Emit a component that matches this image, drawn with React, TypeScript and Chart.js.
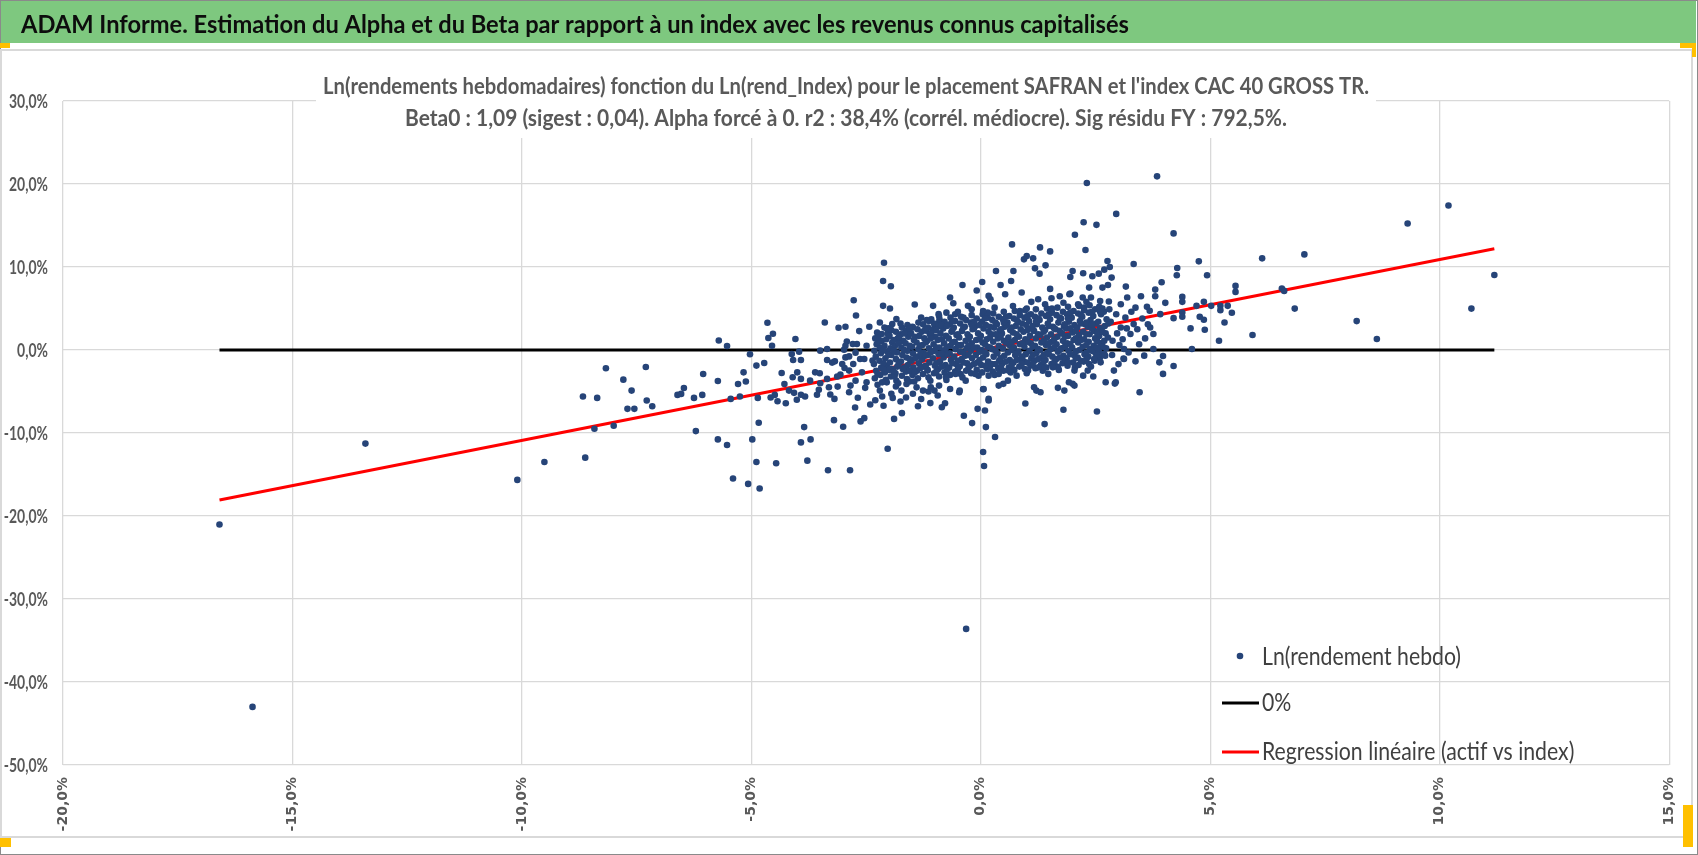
import { Chart, registerables } from 'chart.js';
import { type FC, useEffect, useRef } from 'react';

Chart.register(...registerables);

const TEXT_FONT = 'Lato, "Liberation Sans", sans-serif';
const WIDE = '"DejaVu Sans", Verdana, sans-serif';

const HEADER = 'ADAM Informe. Estimation du Alpha et du Beta par rapport à un index avec les revenus connus capitalisés';
const TITLE_LINES = [
  "Ln(rendements hebdomadaires) fonction du Ln(rend_Index) pour le placement SAFRAN et l'index CAC 40 GROSS TR.",
  'Beta0 : 1,09 (sigest : 0,04). Alpha forcé à 0. r2 : 38,4% (corrél. médiocre). Sig résidu FY : 792,5%.',
];
const LEGEND_LABELS = ['Ln(rendement hebdo)', '0%', 'Regression linéaire (actif vs index)'];

// axes (percent)
const X_RANGE = [-20, 15];
const Y_RANGE = [-50, 30];

// weekly log returns: [index %, asset %]
const tailPoints: [number, number][] = [
  [-16.59, -21.02], [-15.87, -43.0], [-13.41, -11.28], [-10.1, -15.65], [-9.51, -13.49], [-8.62, -12.97],
  [-8.67, -5.61], [-8.36, -5.77], [-8.17, -2.2], [-8.42, -9.49], [-8.0, -9.13], [-7.79, -3.57], [-7.61, -4.89],
  [-7.7, -7.09], [-7.55, -7.09], [-7.3, -2.04], [-7.28, -6.09], [-7.16, -6.77], [-6.61, -5.41], [-6.53, -5.29],
  [-6.47, -4.57], [-6.25, -5.77], [-6.21, -9.77], [-6.07, -5.41], [-6.05, -2.89], [-0.32, -33.6],
];

const lowerPoints: [number, number][] = [
  [-5.4, -15.49], [-5.07, -16.13], [-4.82, -16.69], [-4.89, -13.49], [-4.46, -13.65], [-3.78, -13.33],
  [-3.33, -14.49], [-2.85, -14.49], [0.05, -12.29], [0.07, -13.97], [-2.03, -11.9], [-3.2, -8.45], [-1.89, -8.3],
  [-5.73, -10.77], [-5.53, -11.45], [-4.98, -10.77], [-3.92, -11.13], [-3.71, -10.77], [-3.85, -9.29],
  [-4.84, -8.77], [-1.72, -7.61], [-3.0, -9.24], [-2.62, -8.6], [-2.54, -8.21], [0.31, -10.49], [0.11, -9.29],
  [0.09, -7.29], [-0.07, -7.09], [-0.19, -8.81], [-0.37, -7.92], [1.39, -8.93], [1.8, -7.2], [2.53, -7.41],
];

const leftCloudPoints: [number, number][] = [
  [-2.11, 10.52], [-2.13, 8.32], [-1.96, 7.68], [-2.77, 6.0], [-2.13, 5.32], [-1.98, 5.0], [-1.44, 5.48],
  [-1.04, 5.32], [-2.72, 4.16], [-3.4, 3.32], [-4.65, 3.28], [-4.53, 1.96], [-4.63, 1.44], [-4.55, 0.52],
  [-5.71, 1.15], [-5.53, 0.48], [-5.03, -0.52], [-4.89, -1.88], [-4.72, -1.56], [-5.17, -2.69], [-5.73, -3.73],
  [-5.29, -4.09], [-5.12, -3.8], [-5.45, -5.89], [-5.25, -5.61], [-4.86, -5.77], [-2.74, -6.93], [-2.41, -6.57],
  [-2.3, -6.05], [-2.12, -6.72], [-1.37, -6.77], [-1.92, -5.77], [-1.63, -5.73], [-4.58, -5.73], [-4.43, -6.17],
  [-4.25, -6.41], [-4.49, -5.41], [-4.28, -4.09], [-4.34, -2.77], [-4.1, -3.29], [-4.04, 1.32], [-4.12, -0.48],
  [-4.09, -1.2], [-3.96, -0.2], [-3.92, -1.2], [-4.0, -2.69], [-3.92, -3.48], [-4.18, -4.89], [-4.07, -5.16],
  [-3.92, -5.4], [-3.83, -5.61], [-4.01, -6.0], [-3.72, -3.69], [-3.61, -2.69], [-3.51, -2.81], [-3.5, -0.08],
  [-3.35, 0.12], [-3.35, -1.2], [-3.24, -1.52], [-3.18, -1.37], [-3.5, -4.01], [-3.35, -3.48], [-3.53, -4.8],
  [-3.57, -5.4], [-3.31, -4.49], [-3.28, -5.37], [-3.19, -5.89], [-3.12, -4.41], [-3.06, -2.97], [-2.97, -2.17],
  [-3.02, -1.69], [-2.95, -0.89], [-2.87, -0.77], [-2.98, 0.04], [-2.92, 1.03], [-2.95, 0.52], [-3.1, 2.68],
  [-2.95, 2.8], [-2.65, 2.28], [-2.43, 2.8], [-2.79, 0.72], [-2.7, 0.72], [-2.49, 0.52], [-2.73, -0.32],
  [-2.78, -1.69], [-2.63, -1.08], [-2.54, -1.08], [-2.36, -1.28], [-2.87, -2.48], [-2.73, -3.69], [-2.84, -4.29],
  [-2.87, -5.09], [-2.68, -5.76], [-2.52, -4.56], [-2.49, -3.89], [-2.59, -2.69], [-3.13, -3.2], [-2.2, 3.32],
  [-2.16, 1.92], [-2.03, 2.52], [-1.93, 3.12], [-1.84, 3.72], [-1.62, 2.32], [-1.48, 2.71], [-1.19, 2.32],
  [-1.01, 2.71], [-0.92, 4.32], [-0.91, 3.32], [-2.25, -4.2], [-2.05, -3.9], [-1.85, -4.4], [-1.62, -4.1],
  [-1.4, -4.5], [-1.55, -3.8], [-2.15, -5.6], [-1.75, -6.2], [-1.3, -5.9], [-1.1, -6.4], [-0.85, -6.9],
  [-1.26, -4.89], [-1.48, -5.28], [-1.73, -4.89], [-1.95, -5.28], [-2.2, -4.89], [-1.01, -4.89],
];

const upperRightPoints: [number, number][] = [
  [2.31, 20.12], [3.84, 20.92], [2.95, 16.4], [2.24, 15.4], [2.52, 15.08], [2.05, 13.88], [2.28, 12.04],
  [0.68, 12.72], [1.29, 12.36], [1.51, 11.88], [0.94, 10.92], [1.0, 11.32], [1.14, 11.04], [1.18, 9.84],
  [1.28, 9.2], [1.41, 10.2], [0.33, 9.52], [0.71, 9.52], [0.66, 8.32], [0.43, 7.84], [0.03, 8.2], [-0.4, 7.84],
  [-0.09, 7.16], [1.51, 7.36], [1.95, 8.8], [2.0, 9.52], [2.23, 9.24], [2.43, 8.88], [2.57, 9.2], [2.69, 9.68],
  [2.76, 10.72], [2.81, 10.0], [2.85, 8.72], [2.65, 7.52], [2.77, 7.84], [2.36, 7.52], [3.33, 10.36], [3.16, 7.64],
  [3.49, 6.48], [3.8, 7.28], [3.94, 8.16], [3.8, 6.48], [4.02, 5.68], [3.91, 4.32], [3.62, 5.2], [3.76, 1.92],
  [3.69, 2.71], [3.76, 0.12], [3.89, -1.49], [3.97, -2.88], [3.56, -0.68], [3.46, -5.09], [3.37, -1.37],
  [3.11, -1.04], [2.9, -2.48], [2.92, -4.05], [2.72, -3.89], [2.45, -3.2], [2.23, -3.09], [0.97, -6.45],
  [0.17, -6.09], [0.05, -4.73], [-0.78, -6.41], [-0.94, -5.49], [-0.47, -5.09], [-0.67, -4.69], [1.16, -4.49],
  [1.21, -4.89], [1.3, -5.09], [1.68, -4.56], [1.82, -4.89], [1.92, -3.89], [2.04, -4.29], [0.39, -4.29],
  [0.49, -4.08], [0.59, -3.69], [-0.67, 6.32], [-0.6, 5.64], [-1.18, 3.6], [-0.28, 5.32], [0.17, 6.52],
  [0.21, 6.12], [0.53, 6.72], [0.89, 6.92], [1.25, 6.12], [1.72, 6.48], [1.93, 6.72], [2.12, 5.52], [2.22, 6.32],
  [2.4, 6.32], [3.05, 5.52], [3.19, 6.32], [2.79, 5.84], [3.12, 0.12], [3.05, 2.71], [3.26, 1.92], [3.33, 3.12],
  [2.87, 1.12], [2.69, -0.48], [2.61, -1.49], [2.47, -1.08], [2.33, -2.48], [2.04, -2.48], [1.9, -1.49],
  [1.68, -2.09], [1.47, -2.88], [1.25, -2.09], [1.03, -2.48], [0.89, -1.69], [0.6, -2.48], [0.39, -2.88],
  [0.17, -3.09], [-0.12, -2.88], [-0.33, -3.69], [-0.55, -2.88], [-0.76, -3.29], [-0.91, -4.29], [-1.16, -2.48],
  [-1.09, -4.49], [-1.14, -5.0], [-0.03, 5.72], [1.54, 6.24], [1.95, 6.8], [3.68, 4.72], [3.12, -1.08],
  [2.94, -3.89], [2.0, -4.08], [1.39, -2.09], [1.57, -2.09], [0.78, -3.09], [0.06, -4.69], [0.17, -5.89],
  [-0.46, -4.89], [2.83, 3.4], [2.95, 4.3], [3.02, 0.6], [3.15, 3.9], [3.22, -0.3], [3.28, 4.6], [3.41, 2.5],
  [3.45, 0.7], [3.52, 3.8], [3.58, 1.4], [2.86, -0.6], [2.97, 2.0], [3.09, 1.3], [3.37, 5.1], [3.64, 3.1],
  [2.8, 4.9], [3.0, -1.7], [3.18, 2.6], [-0.5, 4.6], [-0.2, 4.9], [0.3, 5.1], [0.7, 5.3], [1.0, 5.0], [1.4, 5.5],
  [1.8, 5.7], [2.3, 5.8], [2.6, 5.9], [0.05, 4.7], [1.1, 5.8], [-0.75, 4.5],
];

const rightTailPoints: [number, number][] = [
  [4.2, 14.05], [4.75, 10.68], [4.28, 9.88], [4.27, 9.0], [4.93, 9.0], [6.13, 11.04], [7.05, 11.52], [9.3, 15.25],
  [10.19, 17.41], [11.19, 9.04], [10.69, 4.99], [5.55, 7.72], [5.55, 7.0], [6.56, 7.4], [6.61, 7.12], [6.84, 4.99],
  [8.19, 3.48], [8.63, 1.32], [5.92, 1.8], [5.19, 1.12], [4.6, 0.12], [5.31, 3.32], [5.47, 4.48], [5.38, 5.32],
  [5.22, 5.32], [5.22, 4.8], [5.02, 5.32], [4.86, 5.8], [4.7, 5.32], [4.77, 4.0], [4.86, 3.64], [4.88, 2.44],
  [4.57, 2.6], [4.39, 6.4], [4.39, 5.8], [4.39, 4.52], [4.39, 4.0], [4.2, 3.84], [3.97, -0.72], [4.2, -1.92],
];

const corePoints: [number, number][] = [
  [-2.31, -3.4], [-2.28, -2.5], [-2.33, -1.7], [-2.29, -0.8], [-2.32, -0.1], [-2.27, 0.7], [-2.3, 1.4], [-2.26, 2.1],
  [-2.19, -3.0], [-2.17, -2.1], [-2.21, -1.3], [-2.18, -0.4], [-2.2, 0.3], [-2.16, 1.1], [-2.22, 1.8],
  [-2.07, -3.6], [-2.09, -2.7], [-2.05, -1.9], [-2.08, -1.0], [-2.04, -0.2], [-2.1, 0.5], [-2.06, 1.3], [-2.03, 2.0],
  [-1.96, -3.2], [-1.94, -2.3], [-1.98, -1.5], [-1.95, -0.6], [-1.97, 0.2], [-1.93, 0.9], [-1.99, 1.7], [-1.95, 2.4],
  [-1.84, -3.7], [-1.86, -2.8], [-1.82, -2.0], [-1.85, -1.1], [-1.83, -0.3], [-1.87, 0.5], [-1.81, 1.4], [-1.85, 2.2],
  [-1.72, -3.1], [-1.7, -2.3], [-1.74, -1.4], [-1.71, -0.6], [-1.73, 0.3], [-1.69, 1.1], [-1.75, 1.9], [-1.72, 2.7],
  [-1.61, -3.5], [-1.63, -2.6], [-1.59, -1.8], [-1.62, -0.9], [-1.6, -0.1], [-1.64, 0.8], [-1.58, 1.6], [-1.62, 2.3],
  [-1.6, 3.0], [-1.49, -3.0], [-1.47, -2.1], [-1.51, -1.3], [-1.48, -0.4], [-1.5, 0.4], [-1.46, 1.2], [-1.52, 2.0],
  [-1.49, 2.8], [-1.37, -3.4], [-1.39, -2.5], [-1.35, -1.6], [-1.38, -0.8], [-1.36, 0.1], [-1.4, 0.9], [-1.34, 1.7],
  [-1.38, 2.5], [-1.36, 3.3], [-1.26, -2.9], [-1.24, -2.0], [-1.28, -1.1], [-1.25, -0.3], [-1.27, 0.6], [-1.23, 1.4],
  [-1.29, 2.2], [-1.26, 3.1], [-1.14, -3.3], [-1.16, -2.4], [-1.12, -1.5], [-1.15, -0.6], [-1.13, 0.2], [-1.17, 1.1],
  [-1.11, 1.9], [-1.15, 2.7], [-1.13, 3.5], [-1.02, -2.8], [-1.0, -1.9], [-1.04, -1.0], [-1.01, -0.1], [-1.03, 0.7],
  [-0.99, 1.6], [-1.05, 2.4], [-1.02, 3.2], [-0.91, -3.2], [-0.93, -2.3], [-0.89, -1.4], [-0.92, -0.5], [-0.9, 0.3],
  [-0.94, 1.2], [-0.88, 2.0], [-0.92, 2.9], [-0.9, 3.7], [-0.79, -2.7], [-0.77, -1.8], [-0.81, -0.9], [-0.78, 0.0],
  [-0.8, 0.8], [-0.76, 1.7], [-0.82, 2.6], [-0.79, 3.4], [-0.67, -3.0], [-0.69, -2.1], [-0.65, -1.2], [-0.68, -0.4],
  [-0.66, 0.5], [-0.7, 1.4], [-0.64, 2.2], [-0.68, 3.1], [-0.66, 3.9], [-0.56, -2.6], [-0.54, -1.7], [-0.58, -0.8],
  [-0.55, 0.1], [-0.57, 1.0], [-0.53, 1.8], [-0.59, 2.7], [-0.56, 3.5], [-0.44, -2.9], [-0.46, -2.0], [-0.42, -1.1],
  [-0.45, -0.2], [-0.43, 0.6], [-0.47, 1.5], [-0.41, 2.3], [-0.45, 3.2], [-0.43, 4.0], [-0.32, -2.5], [-0.3, -1.6],
  [-0.34, -0.7], [-0.31, 0.2], [-0.33, 1.1], [-0.29, 1.9], [-0.35, 2.8], [-0.32, 3.6], [-0.21, -2.8], [-0.23, -1.9],
  [-0.19, -1.0], [-0.22, -0.1], [-0.2, 0.8], [-0.24, 1.6], [-0.18, 2.5], [-0.22, 3.3], [-0.2, 4.2], [-0.09, -2.4],
  [-0.07, -1.5], [-0.11, -0.6], [-0.08, 0.3], [-0.1, 1.2], [-0.06, 2.0], [-0.12, 2.9], [-0.09, 3.8], [0.03, -2.7],
  [0.01, -1.8], [0.05, -0.9], [0.02, 0.0], [0.04, 0.9], [0.0, 1.7], [0.06, 2.6], [0.02, 3.4], [0.04, 4.3],
  [0.14, -2.3], [0.16, -1.4], [0.12, -0.5], [0.15, 0.4], [0.13, 1.3], [0.17, 2.2], [0.11, 3.0], [0.15, 3.9],
  [0.26, -2.6], [0.24, -1.7], [0.28, -0.8], [0.25, 0.1], [0.27, 1.0], [0.23, 1.9], [0.29, 2.7], [0.25, 3.6],
  [0.27, 4.4], [0.38, -2.2], [0.4, -1.3], [0.36, -0.4], [0.39, 0.5], [0.37, 1.4], [0.41, 2.3], [0.35, 3.1],
  [0.39, 4.0], [0.49, -2.5], [0.47, -1.6], [0.51, -0.7], [0.48, 0.2], [0.5, 1.1], [0.46, 2.0], [0.52, 2.8],
  [0.48, 3.7], [0.5, 4.6], [0.61, -2.1], [0.63, -1.2], [0.59, -0.3], [0.62, 0.6], [0.6, 1.5], [0.64, 2.4],
  [0.58, 3.3], [0.62, 4.1], [0.73, -2.4], [0.71, -1.5], [0.75, -0.6], [0.72, 0.3], [0.74, 1.2], [0.7, 2.1],
  [0.76, 2.9], [0.72, 3.8], [0.74, 4.7], [0.84, -2.0], [0.86, -1.1], [0.82, -0.2], [0.85, 0.7], [0.83, 1.6],
  [0.87, 2.5], [0.81, 3.4], [0.85, 4.2], [0.96, -2.3], [0.94, -1.4], [0.98, -0.5], [0.95, 0.4], [0.97, 1.3],
  [0.93, 2.2], [0.99, 3.0], [0.95, 3.9], [0.97, 4.8], [1.08, -1.9], [1.1, -1.0], [1.06, -0.1], [1.09, 0.8],
  [1.07, 1.7], [1.11, 2.6], [1.05, 3.5], [1.09, 4.3], [1.19, -2.2], [1.17, -1.3], [1.21, -0.4], [1.18, 0.5],
  [1.2, 1.4], [1.16, 2.3], [1.22, 3.1], [1.18, 4.0], [1.2, 4.9], [1.31, -1.8], [1.33, -0.9], [1.29, 0.0],
  [1.32, 0.9], [1.3, 1.8], [1.34, 2.7], [1.28, 3.6], [1.32, 4.4], [1.43, -2.1], [1.41, -1.2], [1.45, -0.3],
  [1.42, 0.6], [1.44, 1.5], [1.4, 2.4], [1.46, 3.2], [1.42, 4.1], [1.44, 5.0], [1.54, -1.7], [1.56, -0.8],
  [1.52, 0.1], [1.55, 1.0], [1.53, 1.9], [1.57, 2.8], [1.51, 3.7], [1.55, 4.5], [1.66, -2.0], [1.64, -1.1],
  [1.68, -0.2], [1.65, 0.7], [1.67, 1.6], [1.63, 2.5], [1.69, 3.3], [1.65, 4.2], [1.67, 5.1], [1.78, -1.6],
  [1.8, -0.7], [1.76, 0.2], [1.79, 1.1], [1.77, 2.0], [1.81, 2.9], [1.75, 3.8], [1.79, 4.6], [1.89, -1.9],
  [1.87, -1.0], [1.91, -0.1], [1.88, 0.8], [1.9, 1.7], [1.86, 2.6], [1.92, 3.4], [1.88, 4.3], [1.9, 5.2],
  [2.01, -1.5], [2.03, -0.6], [1.99, 0.3], [2.02, 1.2], [2.0, 2.1], [2.04, 3.0], [1.98, 3.9], [2.02, 4.7],
  [2.13, -1.8], [2.11, -0.9], [2.15, 0.0], [2.12, 0.9], [2.14, 1.8], [2.1, 2.7], [2.16, 3.5], [2.12, 4.4],
  [2.14, 5.3], [2.24, -1.4], [2.26, -0.5], [2.22, 0.4], [2.25, 1.3], [2.23, 2.2], [2.27, 3.1], [2.21, 4.0],
  [2.25, 4.8], [2.36, -1.7], [2.34, -0.8], [2.38, 0.1], [2.35, 1.0], [2.37, 1.9], [2.33, 2.8], [2.39, 3.6],
  [2.35, 4.5], [2.37, 5.4], [2.48, -1.3], [2.5, -0.4], [2.46, 0.5], [2.49, 1.4], [2.47, 2.3], [2.51, 3.2],
  [2.45, 4.1], [2.49, 4.9], [2.59, -1.0], [2.57, -0.1], [2.61, 0.8], [2.58, 1.7], [2.6, 2.6], [2.56, 3.4],
  [2.62, 4.3], [2.58, 5.2], [2.71, -0.7], [2.73, 0.2], [2.69, 1.1], [2.72, 2.0], [2.7, 2.9], [2.74, 3.7],
  [2.68, 4.6],
];

const innerCorePoints: [number, number][] = [
  [-1.31, -0.4], [-1.2, 0.9], [-1.08, 2.0], [-0.97, 0.3], [-0.85, 1.3], [-0.73, -0.5], [-0.62, 2.4], [-0.5, 0.6],
  [-0.38, -0.3], [-0.27, 1.4], [-0.15, 2.6], [-0.03, -0.2], [0.09, 0.7], [0.2, 2.8], [0.32, -0.1], [0.43, 1.6],
  [0.55, 3.0], [0.67, 0.0], [0.78, 1.9], [0.9, -0.8], [1.02, 1.0], [1.13, 2.9], [1.25, 0.1], [1.37, 1.1],
  [1.48, 2.9], [1.6, 0.3], [1.72, 2.3], [1.83, 0.4], [1.95, 2.6], [2.07, 1.4], [2.18, 3.2], [2.3, 0.6],
  [-1.2, -1.9], [-0.97, -1.6], [-0.73, -2.3], [-0.5, -1.3], [-0.27, -2.2], [-0.03, -1.2], [0.2, -2.0], [0.43, -1.0],
  [0.67, -1.8], [0.9, -0.9], [1.13, -1.7], [1.37, -0.6], [1.6, -1.5], [1.83, -1.2], [2.07, -0.2], [2.3, -1.1],
  [-1.08, 3.7], [-0.85, 3.0], [-0.62, 3.5], [-0.38, 3.9], [-0.15, 3.4], [0.09, 3.8], [0.32, 3.3], [0.55, 4.0],
  [0.78, 3.6], [1.02, 4.1], [1.25, 3.8], [1.48, 4.3], [1.72, 3.9], [1.95, 4.5], [2.18, 4.2], [2.42, 4.6],
  [2.65, 5.0], [-1.9, -0.1], [-1.78, 1.6], [-1.66, -2.1], [-1.55, 0.5], [-1.43, -1.0], [-2.0, -2.4], [-2.24, 0.9],
  [-2.12, -1.6], [-1.88, -3.2], [-1.55, 2.6], [2.54, 2.0], [2.66, 0.4], [2.42, 2.6], [2.3, 1.9], [2.55, -0.6],
  [2.77, 1.5], [2.78, 3.2],
  [-2.25, -2.9], [-2.13, 0.0], [-2.01, -0.6], [-1.9, 1.2], [-1.79, -1.7], [-1.67, 0.0], [-1.55, -2.5], [-1.44, 1.6],
  [-1.32, -2.2], [-1.21, 2.5], [-1.09, -0.3], [-0.97, 2.4], [-0.85, -2.0], [-0.74, 0.4], [-0.62, -1.6], [-0.5, 1.9],
  [-0.38, -1.5], [-0.27, 0.5], [-0.15, -1.7], [-0.03, 1.3], [0.09, -1.9], [0.2, 0.3], [0.32, 1.9], [0.44, -2.0],
  [0.55, 0.9], [0.67, 2.7], [0.78, -1.2], [0.9, 0.8], [1.02, 2.4], [1.13, -0.6], [1.25, 1.9], [1.37, -1.4],
  [1.48, 0.8], [1.6, 2.6], [1.72, -0.9], [1.83, 1.6], [1.95, -0.5], [2.07, 2.3], [2.18, -1.3], [2.3, 3.3],
  [2.42, -0.1], [2.53, 1.1], [2.65, 2.2], [-2.25, 1.5], [-2.13, -2.3], [-2.01, 2.6], [-1.9, -2.6], [-1.79, 0.8],
  [-1.67, 2.0], [-1.55, -1.1], [-1.44, -2.7], [-1.32, 0.5], [-1.21, -0.7], [-1.09, 1.4], [-0.97, -2.6],
  [-0.85, -0.4], [-0.74, 2.9], [-0.62, 0.9], [-0.5, -2.3], [-0.38, 2.7], [-0.27, -0.6], [-0.15, 0.3], [-0.03, 3.0],
  [0.09, -0.3], [0.2, 1.5], [0.32, -1.7], [0.44, 2.5], [0.55, -1.4], [0.67, 1.0], [0.78, -0.4], [0.9, 3.2],
  [1.02, -1.5], [1.13, 0.4], [1.25, -1.1], [1.37, 2.2], [1.48, -0.5], [1.6, 1.3], [1.72, 0.0], [1.83, 3.1],
  [1.95, 0.7], [2.07, -1.0], [2.18, 1.2], [2.3, -0.3], [2.42, 3.1], [2.53, 0.3], [2.65, -0.5], [-0.91, 4.1],
  [-0.56, 4.3], [-0.2, 3.0], [0.15, 4.5], [0.5, 3.3], [0.85, 4.7], [1.2, 3.4], [1.55, 5.0], [1.9, 3.8], [2.25, 5.1],
  [2.6, 4.6], [-1.3, 3.9], [-1.75, 3.2], [-2.1, 2.7], [-0.4, -3.3], [-0.05, -3.1], [0.3, -3.0], [0.65, -2.7],
  [1.0, -2.8], [1.35, -2.5], [1.7, -2.4], [2.05, -2.1], [2.4, -2.0], [-0.75, -3.6], [-1.1, -3.7], [-1.45, -3.8],
  [-1.8, -4.0], [-2.15, -3.9],
];

// zero line and fitted line (alpha forced to 0), from min to max index return
const zeroLineX = [-16.59, 11.19];
const zeroLineY = [0, 0];
const regressionX = [-16.59, 11.19];
const regressionY = [-18.08, 12.2];

const weeklyPoints = [
  ...tailPoints,
  ...lowerPoints,
  ...leftCloudPoints,
  ...corePoints,
  ...innerCorePoints,
  ...upperRightPoints,
  ...rightTailPoints,
];

const POINT_COLOR = '#264478';
const GRID = '#d9d9d9';
const TICK_TEXT = '#595959';

const pct = (v: number | string) => `${Number(v).toFixed(1).replace('.', ',')}%`;

// draws text squeezed horizontally by sx (the original uses a narrow Calibri look)
const drawText = (
  ctx: CanvasRenderingContext2D,
  text: string,
  x: number,
  y: number,
  font: string,
  sx: number,
  align: CanvasTextAlign,
) => {
  ctx.save();
  ctx.font = font;
  ctx.textAlign = align;
  ctx.textBaseline = 'middle';
  ctx.translate(x, y);
  ctx.scale(sx, 1);
  ctx.fillText(text, 0, 0);
  ctx.restore();
};

const fitScale = (ctx: CanvasRenderingContext2D, text: string, font: string, width: number) => {
  ctx.save();
  ctx.font = font;
  const w = ctx.measureText(text).width;
  ctx.restore();
  return width / w;
};

const textPlugin = {
  id: 'texts',
  beforeDatasetsDraw(chart: Chart) {
    const { ctx } = chart;
    // header band text
    const headerFont = `bold 25px ${TEXT_FONT}`;
    ctx.fillStyle = '#0d0d0d';
    drawText(ctx, HEADER, 21, 25, headerFont, fitScale(ctx, HEADER, headerFont, 1108), 'left');

    // title with its white box over the plot
    const titleFont = `bold 22px ${TEXT_FONT}`;
    const cx = 846;
    const half = 1046 / 2 + 7;
    ctx.fillStyle = '#ffffff';
    ctx.fillRect(cx - half, 68, half * 2, 70);
    ctx.fillStyle = TICK_TEXT;
    drawText(ctx, TITLE_LINES[0], cx, 86.5, titleFont, fitScale(ctx, TITLE_LINES[0], titleFont, 1046), 'center');
    drawText(ctx, TITLE_LINES[1], cx, 119, titleFont, fitScale(ctx, TITLE_LINES[1], titleFont, 882), 'center');

    // y tick labels
    const yScale = chart.scales.y;
    const yFont = `bold 19px ${TEXT_FONT}`;
    const ysx = fitScale(ctx, '30,0%', yFont, 39);
    ctx.fillStyle = TICK_TEXT;
    yScale.ticks.forEach((t) => {
      drawText(ctx, pct(t.value), 48, yScale.getPixelForValue(t.value) + 1, yFont, ysx, 'right');
    });
  },
  afterDatasetsDraw(chart: Chart) {
    const { ctx } = chart;
    const font = `25px ${TEXT_FONT}`;
    const sx = fitScale(ctx, LEGEND_LABELS[0], font, 199);
    const rows = [657, 703, 752];
    ctx.fillStyle = '#404040';
    LEGEND_LABELS.forEach((label, i) => drawText(ctx, label, 1262, rows[i], font, sx, 'left'));

    ctx.save();
    ctx.fillStyle = POINT_COLOR;
    ctx.beginPath();
    ctx.arc(1240, rows[0] - 1, 3.3, 0, Math.PI * 2);
    ctx.fill();
    ctx.lineWidth = 3;
    ctx.strokeStyle = '#000000';
    ctx.beginPath();
    ctx.moveTo(1222, rows[1]);
    ctx.lineTo(1259, rows[1]);
    ctx.stroke();
    ctx.strokeStyle = '#ff0000';
    ctx.beginPath();
    ctx.moveTo(1222, rows[2]);
    ctx.lineTo(1259, rows[2]);
    ctx.stroke();
    ctx.restore();
  },
};

const App: FC = () => {
  const canvasRef = useRef<HTMLCanvasElement>(null);
  const chartRef = useRef<Chart | null>(null);

  useEffect(() => {
    document.body.style.margin = '0';
    if (!canvasRef.current) return;
    const context = canvasRef.current.getContext('2d');
    if (!context) return;

    chartRef.current = new Chart(context, {
      type: 'scatter',
      data: {
        datasets: [
          {
            label: LEGEND_LABELS[0],
            data: weeklyPoints.map(([x, y]) => ({ x, y })),
            backgroundColor: POINT_COLOR,
            borderWidth: 0,
            pointRadius: 3.3,
            order: 0,
          },
          {
            label: LEGEND_LABELS[1],
            data: zeroLineX.map((x, i) => ({ x, y: zeroLineY[i] })),
            showLine: true,
            borderColor: '#000000',
            borderWidth: 3,
            pointRadius: 0,
            order: 2,
          },
          {
            label: LEGEND_LABELS[2],
            data: regressionX.map((x, i) => ({ x, y: regressionY[i] })),
            showLine: true,
            borderColor: '#ff0000',
            borderWidth: 3,
            pointRadius: 0,
            order: 1,
          },
        ],
      },
      options: {
        responsive: false,
        animation: false,
        devicePixelRatio: 1,
        layout: { padding: { top: 101, right: 17, left: 0, bottom: 0 } },
        scales: {
          x: {
            type: 'linear',
            min: X_RANGE[0],
            max: X_RANGE[1],
            afterFit: (scale) => {
              scale.height = 90;
            },
            grid: { color: GRID, lineWidth: 1.3, drawTicks: false },
            border: { display: false },
            ticks: {
              stepSize: 5,
              autoSkip: false,
              minRotation: 90,
              maxRotation: 90,
              padding: 12,
              color: TICK_TEXT,
              font: { family: WIDE, size: 14, weight: 'bold' },
              callback: (v) => pct(v),
            },
          },
          y: {
            type: 'linear',
            min: Y_RANGE[0],
            max: Y_RANGE[1],
            afterFit: (scale) => {
              scale.width = 63;
            },
            grid: { color: GRID, lineWidth: 1.3, drawTicks: false },
            border: { display: false },
            ticks: { stepSize: 10, display: false },
          },
        },
        plugins: {
          legend: { display: false },
          title: { display: false },
          tooltip: { enabled: false },
        },
      },
      plugins: [textPlugin],
    });

    return () => {
      chartRef.current?.destroy();
    };
  }, []);

  return (
    <div style={{ position: 'relative', width: 1698, height: 855, overflow: 'hidden', background: '#ffffff' }}>
      <div
        style={{
          position: 'absolute',
          left: 0,
          top: 0,
          width: 1698,
          height: 855,
          boxSizing: 'border-box',
          border: '1px solid #8a8a8a',
        }}
      />
      <div style={{ position: 'absolute', left: 1, top: 1, width: 1695, height: 42, background: '#7ec87f' }} />
      <div
        style={{
          position: 'absolute',
          left: 0,
          top: 49,
          width: 1693,
          height: 789,
          boxSizing: 'border-box',
          border: '2px solid #d9d9d9',
        }}
      />
      <div style={{ position: 'absolute', left: 0, top: 43, width: 10, height: 5, background: '#ffc000' }} />
      <div style={{ position: 'absolute', left: 1680, top: 43, width: 16, height: 5, background: '#ffc000' }} />
      <div style={{ position: 'absolute', left: 1692, top: 43, width: 4, height: 14, background: '#ffc000' }} />
      <div style={{ position: 'absolute', left: 0, top: 838, width: 11, height: 9, background: '#ffc000' }} />
      <div style={{ position: 'absolute', left: 1683, top: 805, width: 10, height: 42, background: '#ffc000' }} />
      <canvas ref={canvasRef} width={1698} height={855} style={{ position: 'absolute', left: 0, top: 0 }} />
    </div>
  );
};

export default App;
